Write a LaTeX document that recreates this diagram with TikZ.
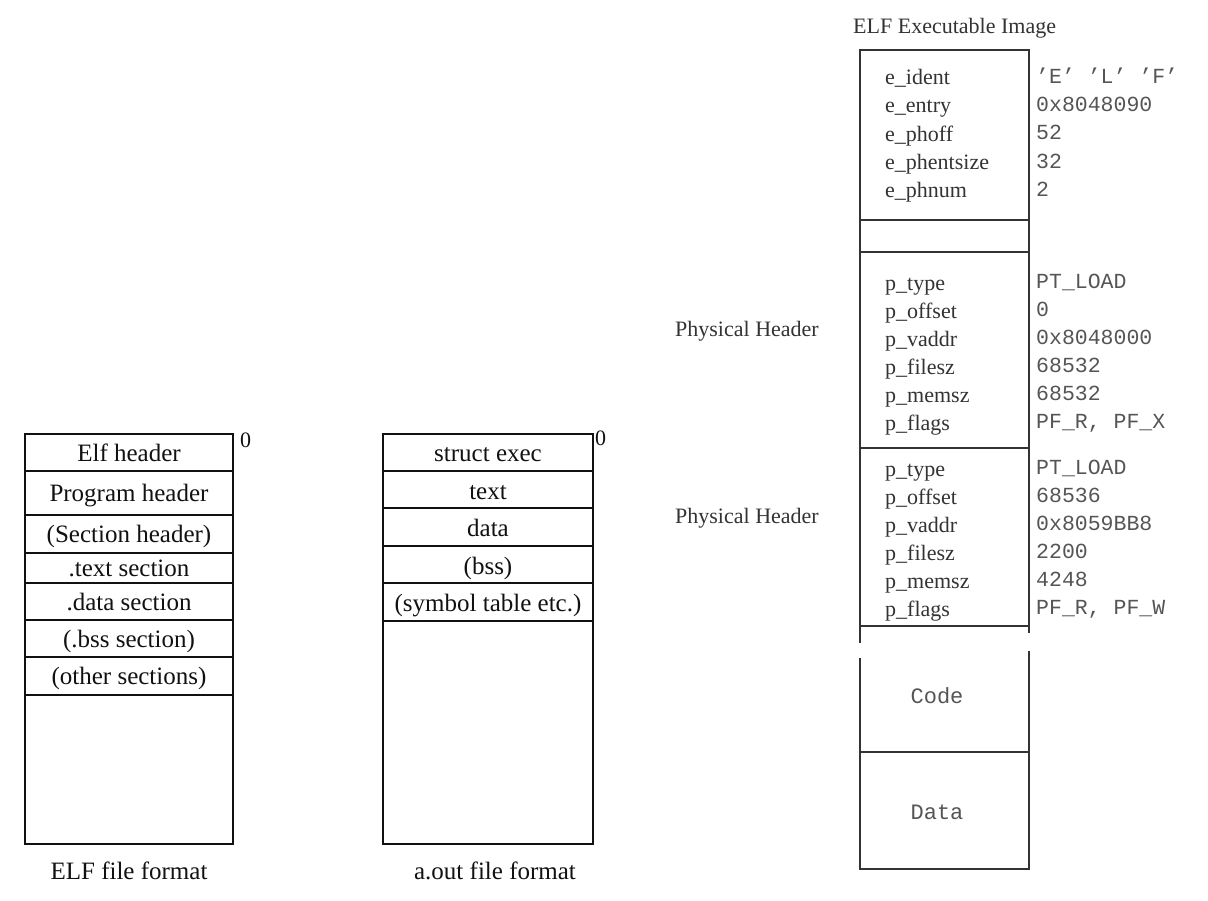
\documentclass[tikz,border=0pt]{standalone}
\usepackage{fontspec}
\setmainfont{Liberation Serif}
\setmonofont{Liberation Mono}
\definecolor{layoutink}{HTML}{111111}
\definecolor{imageink}{HTML}{333333}
\definecolor{valueink}{HTML}{555555}

\begin{document}
\begin{tikzpicture}[
  x=1pt,
  y=-1pt,
  every node/.style={inner sep=0pt},
  segment/.style={layoutink, line width=1.3pt},
  frame/.style={imageink, line width=1.3pt},
  slot/.style={font=\fontsize{25}{28}\selectfont, layoutink,
    text height=17.5pt, text depth=5pt},
  caption/.style={font=\fontsize{25}{28}\selectfont, layoutink,
    text height=17.5pt, text depth=5pt},
  offset/.style={font=\fontsize{22}{24}\selectfont, layoutink, anchor=west,
    text height=15pt, text depth=4pt},
  field/.style={font=\fontsize{22}{24}\selectfont, imageink, anchor=west,
    text height=15.4pt, text depth=4.4pt},
  value/.style={font=\ttfamily\fontsize{21.5}{24}\selectfont, valueink,
    anchor=west, text height=15pt, text depth=4.3pt},
  area/.style={font=\ttfamily\fontsize{22}{24}\selectfont, valueink,
    text height=15.4pt, text depth=4.4pt}
]
  \useasboundingbox (0,0) rectangle (1208,900);

  % ---- ELF file format -------------------------------------------------
  \draw[segment] (25,434) rectangle (233,844);
  \foreach \y in {471,515,553,583,620,657,695}
    \draw[segment] (25,\y) -- (233,\y);
  \foreach \y/\txt [count=\i] in {455/{Elf header}, 495/{Program header},
      536/{(Section header)}, 570/{.text section}, 604/{.data section},
      641/{(.bss section)}, 678/{(other sections)}}
    \node[slot] (elf-\i) at (129,\y) {\txt};
  \node[offset] (elf-zero) at (240,442) {0};
  \node[caption] (elf-caption) at (129,873) {ELF file format};

  % ---- a.out file format -----------------------------------------------
  \draw[segment] (383,434) rectangle (593,844);
  \foreach \y in {471,508,546,583,621}
    \draw[segment] (383,\y) -- (593,\y);
  \foreach \y/\txt [count=\i] in {455/{struct exec}, 493/{text}, 530/{data},
      568/{(bss)}, 605/{(symbol table etc.)}}
    \node[slot] (aout-\i) at (488,\y) {\txt};
  \node[offset] (aout-zero) at (595,440) {0};
  \node[caption] (aout-caption) at (495,873) {a.out file format};

  % ---- ELF executable image --------------------------------------------
  \node[field] (image-title) at (853,28) {ELF Executable Image};
  \draw[frame] (860,643) -- (860,50) -- (1029,50) -- (1029,633);
  \foreach \y in {220,252,448,626}
    \draw[frame] (860,\y) -- (1029,\y);
  \draw[frame] (860,658) -- (860,869) -- (1029,869) -- (1029,651);
  \draw[frame] (860,752) -- (1029,752);

  % ---- the ELF header fields -------------------------------------------
  \foreach \lbl/\val [count=\i] in {e\_ident/{’E’ ’L’ ’F’},
      e\_entry/0x8048090, e\_phoff/52, e\_phentsize/32, e\_phnum/2} {
    \node[field] (ehdr-\i) at (885,{79+28.25*(\i-1)}) {\lbl};
    \node[value] (ehdr-val-\i) at (1036,{78+28.25*(\i-1)}) {\val};
  }

  % ---- the two program headers -----------------------------------------
  \foreach \top/\name in {285/phdr-a, 471/phdr-b}
    \foreach \lbl [count=\i] in {p\_type, p\_offset, p\_vaddr, p\_filesz,
        p\_memsz, p\_flags}
      \node[field] (\name-\i) at (885,{\top+28*(\i-1)}) {\lbl};
  \foreach \val [count=\i] in {PT\_LOAD, 0, 0x8048000, 68532, 68532,
      {PF\_R, PF\_X}}
    \node[value] (phdr-a-val-\i) at (1036,{283+28*(\i-1)}) {\val};
  \foreach \val [count=\i] in {PT\_LOAD, 68536, 0x8059BB8, 2200, 4248,
      {PF\_R, PF\_W}}
    \node[value] (phdr-b-val-\i) at (1036,{469+28*(\i-1)}) {\val};
  \node[field] (phdr-a-name) at (675,331) {Physical Header};
  \node[field] (phdr-b-name) at (675,518) {Physical Header};

  % ---- the loaded segments ---------------------------------------------
  \node[area] (seg-code) at (937,698) {Code};
  \node[area] (seg-data) at (937,814) {Data};
\end{tikzpicture}
\end{document}
